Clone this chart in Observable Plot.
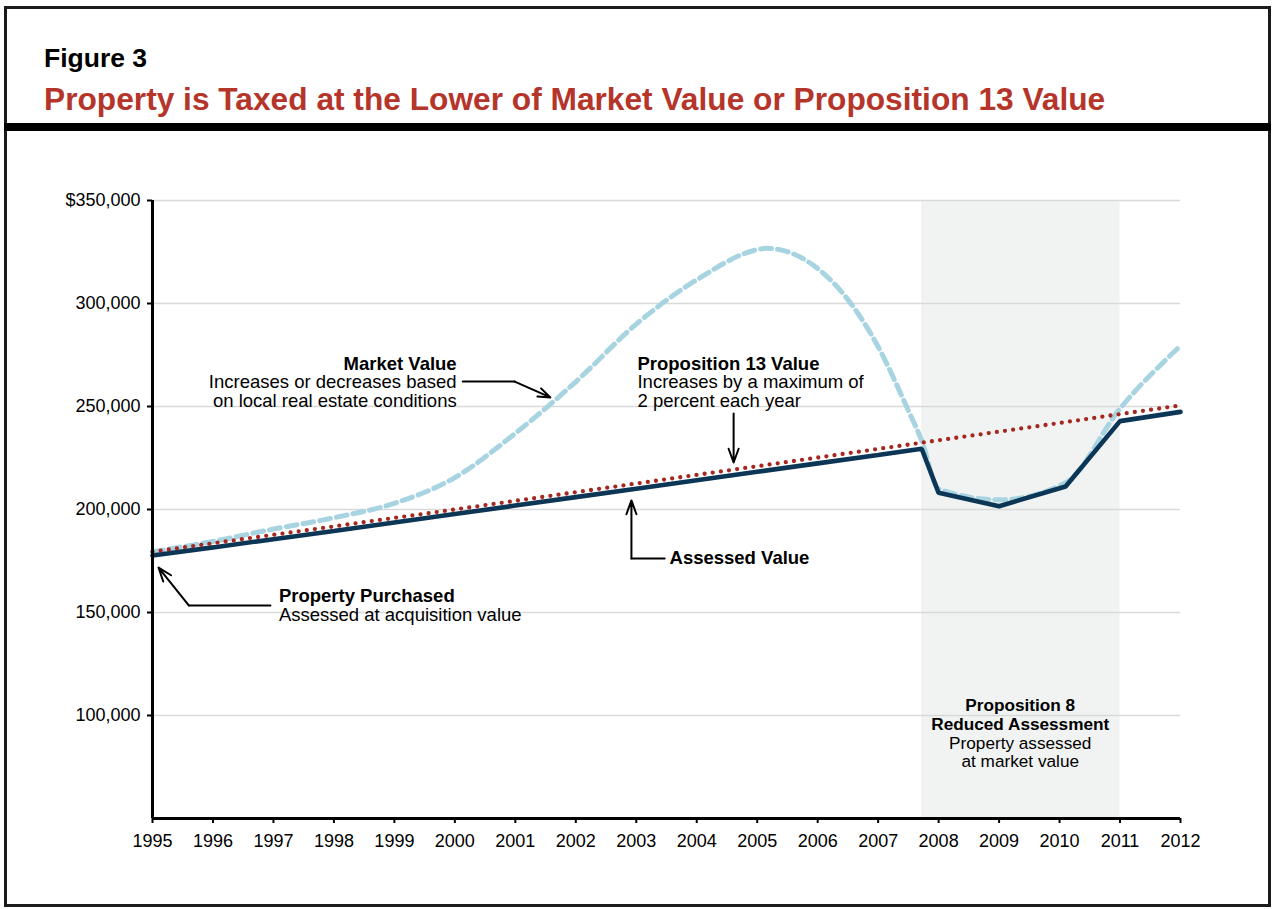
<!DOCTYPE html>
<html><head><meta charset="utf-8">
<script src="https://cdn.jsdelivr.net/npm/d3@7"></script>
<script src="https://cdn.jsdelivr.net/npm/@observablehq/plot@0.6"></script>
<style>
html,body{margin:0;padding:0;background:#fff;}
body{width:1273px;height:909px;position:relative;overflow:hidden;font-family:"Liberation Sans",Arial,Helvetica,sans-serif;}
#frame{position:absolute;left:4px;top:6px;width:1261px;height:895px;border:3px solid #1b1b1b;}
#fig{position:absolute;left:44px;top:44.6px;font-size:26.5px;line-height:26.5px;font-weight:bold;color:#000;white-space:nowrap;}
#title{position:absolute;left:44px;top:84.2px;font-size:31.7px;line-height:31.7px;font-weight:bold;color:#b5352b;white-space:nowrap;}
#bar{position:absolute;left:4px;top:123px;width:1267px;height:8px;background:#000;}
#chart{position:absolute;left:0;top:140px;}
</style></head>
<body>
<div id="frame"></div>
<div id="fig">Figure 3</div>
<div id="title">Property is Taxed at the Lower of Market Value or Proposition 13 Value</div>
<div id="bar"></div>
<div id="chart"></div>
<script>
// ---- data ----
const years = [1995,1996,1997,1998,1999,2000,2001,2002,2003,2004,2005,2006,2007,2008,2009,2010,2011,2012];
const yTicks = [100000,150000,200000,250000,300000,350000];
const yTickLabels = ["100,000","150,000","200,000","250,000","300,000","$350,000"];
const yDomain = [50000, 350000];
const xDomain = [1995, 2012];

const assessedX = [1995,1996,1997,1998,1999,2000,2001,2002,2003,2004,2005,2006,2007,2007.72,2008,2009,2010.1,2011,2012];
const assessedY = [177700,181600,185600,189600,193700,197800,201900,206000,210100,214200,218300,222400,226500,229500,208100,201600,211200,242900,247400];

const prop13X = years;
const prop13Y = [179500,183600,187700,191800,195900,200000,204200,208400,212600,216800,221000,225200,229400,233600,237800,242000,246300,250500];

const marketX = [1995,1996,1997,1998,1999,2000,2001,2002,2003,2004,2005,2005.15,2006,2007,2007.5,2007.72,2008,2009,2010.1,2011,2012];
const marketY = [179500,184500,190500,196000,203000,215500,237000,262000,290000,311500,326100,326800,317000,279000,248000,233500,210000,204700,213000,249000,279500];

const shadeRange = [2007.72, 2011];

// annotation arrows (polylines in data units; last segment carries the head)
const marketArrow = [[2000.13,262100],[2000.99,262100],[2001.58,254400]];
const prop13Arrow = [[2004.61,246600],[2004.61,222800]];
const assessedArrow = [[2003.47,176200],[2002.92,176200],[2002.92,204400]];
const purchasedArrow = [[1996.95,153400],[1995.6,153400],[1995.1,171800]];

// annotation texts
const notesBoldEnd = [{x:2000.03, y:267500, text:"Market Value"}];
const notesBodyEnd = [{x:2000.03, y:250000, text:"Increases or decreases based\non local real estate conditions"}];
const notesBoldStart = [
  {x:2003.02, y:267800, text:"Proposition 13 Value"},
  {x:2003.55, y:173650, text:"Assessed Value"},
  {x:1997.09, y:155000, text:"Property Purchased"}
];
const notesBodyStart = [
  {x:2003.02, y:250000, text:"Increases by a maximum of\n2 percent each year"},
  {x:1997.09, y:146100, text:"Assessed at acquisition value"}
];
const prop8Bold = [{x:2009.35, y:93200, text:"Proposition 8\nReduced Assessment"}];
const prop8Body = [{x:2009.35, y:75200, text:"Property assessed\nat market value"}];

// ---- build tables ----
const assessed = assessedX.map((x,i)=>({x, y:assessedY[i]}));
const prop13 = prop13X.map((x,i)=>({x, y:prop13Y[i]}));
const market = marketX.map((x,i)=>({x, y:marketY[i]}));
const toPts = a => a.map(([x,y])=>({x,y}));
const arrows = [marketArrow, prop13Arrow, assessedArrow, purchasedArrow];
const arrowLines = arrows.filter(a=>a.length>2).map(a=>toPts(a.slice(0,-1)));
const arrowHeads = arrows.map(a=>({x1:a[a.length-2][0], y1:a[a.length-2][1], x2:a[a.length-1][0], y2:a[a.length-1][1]}));

const FONT = '"Liberation Sans", Arial, Helvetica, sans-serif';
const labelOf = d => yTickLabels[yTicks.indexOf(d)];
const txt = (data, o) => Plot.text(data, {x:"x", y:"y", text:"text", lineAnchor:"bottom", fill:"#000", ...o});

const chart = Plot.plot({
  width: 1273, height: 728,
  marginLeft: 152, marginRight: 93, marginTop: 60, marginBottom: 50,
  style: {fontFamily: FONT, color: "#000", background: "transparent", overflow: "visible"},
  x: {domain: xDomain},
  y: {domain: yDomain},
  marks: [
    Plot.rect([{x1:shadeRange[0], x2:shadeRange[1]}], {x1:"x1", x2:"x2", y1:yDomain[0], y2:yDomain[1], fill:"#f1f3f3"}),
    Plot.gridY(yTicks, {stroke:"#d9d9d9", strokeOpacity:1, strokeWidth:1.3}),
    Plot.axisY({ticks: yTicks, tickFormat: labelOf, tickSize: 5, tickPadding: 7, fontSize: 18, label: null, strokeWidth: 2}),
    Plot.axisX({ticks: years, tickFormat: d => String(d), tickSize: 5, tickPadding: 11, fontSize: 18, label: null, strokeWidth: 2}),
    Plot.line(market, {x:"x", y:"y", stroke:"#a8d4e1", strokeWidth:5, strokeDasharray:"11,6", curve:"monotone-x"}),
    Plot.line(assessed, {x:"x", y:"y", stroke:"#0c3656", strokeWidth:4.6, strokeLinejoin:"miter"}),
    Plot.line(prop13, {x:"x", y:"y", stroke:"#a4281f", strokeWidth:4.3, strokeDasharray:"0,8.2", strokeLinecap:"round"}),
    Plot.ruleX([xDomain[0]], {y1:yDomain[0], y2:yDomain[1], stroke:"#000", strokeWidth:3}),
    Plot.ruleY([yDomain[0]], {x1:xDomain[0], x2:xDomain[1], stroke:"#000", strokeWidth:3}),
    ...arrowLines.map(pts => Plot.line(pts, {x:"x", y:"y", stroke:"#000", strokeWidth:2})),
    Plot.arrow(arrowHeads, {x1:"x1", y1:"y1", x2:"x2", y2:"y2", stroke:"#000", strokeWidth:2, headLength:11, headAngle:40}),
    txt(notesBoldEnd, {textAnchor:"end", fontSize:18.5, fontWeight:"bold"}),
    txt(notesBodyEnd, {textAnchor:"end", lineHeight:0.99, fontSize:18.5}),
    txt(notesBoldStart, {textAnchor:"start", fontSize:18.5, fontWeight:"bold"}),
    txt(notesBodyStart, {textAnchor:"start", lineHeight:0.99, fontSize:18.5}),
    txt(prop8Bold, {textAnchor:"middle", lineHeight:1.1, fontSize:17.2, fontWeight:"bold"}),
    txt(prop8Body, {textAnchor:"middle", lineHeight:1.05, fontSize:17.2})
  ]
});
document.getElementById("chart").appendChild(chart);
</script>
</body></html>
